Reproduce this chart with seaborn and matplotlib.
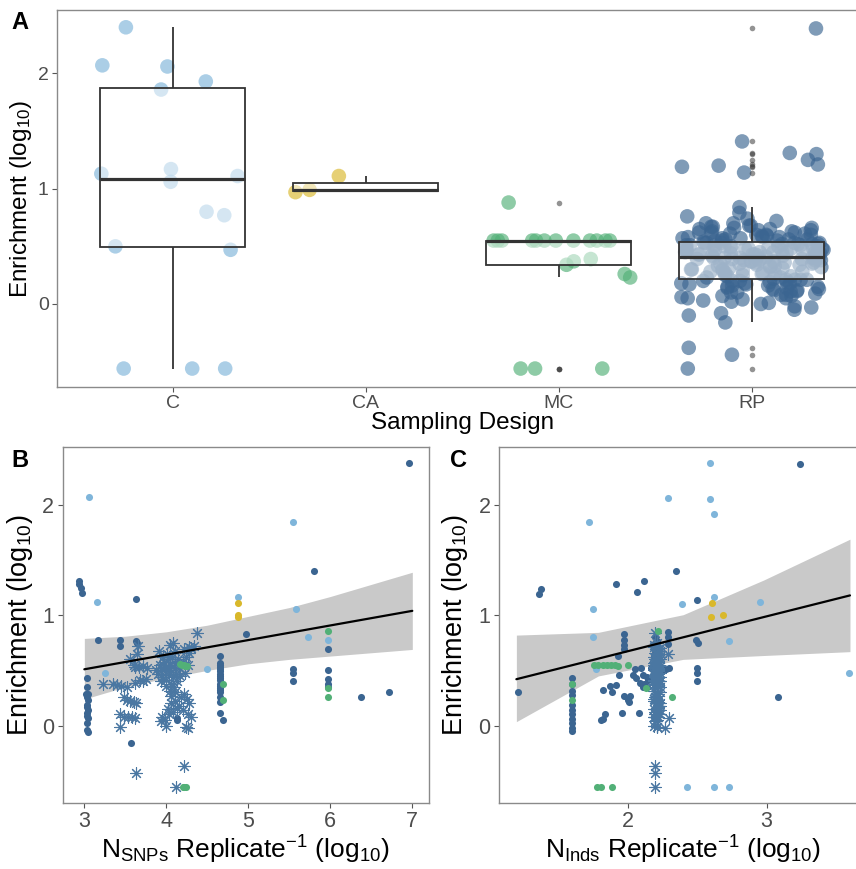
import numpy as np
import pandas as pd
import matplotlib
matplotlib.use("Agg")
import matplotlib.pyplot as plt
import seaborn as sns

# ---------------- data ----------------
design_order = ["C", "CA", "MC", "RP"]
design_colors = {"C": "#7fb5da", "CA": "#d9b82b", "MC": "#52b077", "RP": "#3b6591"}
asterisk_color = "#4a77a2"

# Panel A: enrichment (log10) per sampling design
enrich_C = [2.40, 2.07, 2.06, 1.93, 1.86, 1.06, 1.13, 1.17, 1.11, 0.77, 0.80,
            0.50, 0.47, -0.56, -0.56, -0.56]
enrich_CA = [0.97, 0.99, 1.11]
enrich_MC = [0.88, 0.55, 0.55, 0.55, 0.55, 0.55, 0.55, 0.55, 0.55, 0.55, 0.55,
             0.55, 0.55, 0.39, 0.37, 0.34, 0.26, 0.23, -0.56, -0.56, -0.56]
enrich_RP = [
    -0.56, -0.44, -0.38,
    -0.16, -0.10, -0.08, -0.05, -0.03, -0.02, 0.00, 0.01, 0.02, 0.03, 0.04, 0.05,
    0.05, 0.06, 0.07, 0.07, 0.08, 0.08, 0.09, 0.10, 0.10, 0.11, 0.11, 0.12, 0.12,
    0.13, 0.13, 0.14, 0.14, 0.15, 0.15, 0.16, 0.16, 0.17, 0.17, 0.18, 0.18, 0.18,
    0.19, 0.19, 0.20, 0.20, 0.20, 0.21, 0.21, 0.21, 0.21,
    0.22,
    0.23, 0.23, 0.24, 0.24, 0.25, 0.25, 0.26, 0.26, 0.27, 0.27, 0.28, 0.28, 0.29,
    0.29, 0.30, 0.30, 0.30, 0.31, 0.31, 0.32, 0.32, 0.33, 0.33, 0.33, 0.34, 0.34,
    0.35, 0.35, 0.35, 0.36, 0.36, 0.36, 0.37, 0.37, 0.37, 0.38, 0.38, 0.38, 0.38,
    0.39, 0.39, 0.39, 0.39, 0.40, 0.40, 0.40, 0.40, 0.40, 0.40,
    0.41,
    0.42, 0.42, 0.42, 0.42, 0.43, 0.43, 0.43, 0.43, 0.44, 0.44, 0.44, 0.44, 0.45,
    0.45, 0.45, 0.45, 0.46, 0.46, 0.46, 0.46, 0.47, 0.47, 0.47, 0.47, 0.48, 0.48,
    0.48, 0.48, 0.49, 0.49, 0.49, 0.49, 0.50, 0.50, 0.50, 0.50, 0.51, 0.51, 0.51,
    0.51, 0.52, 0.52, 0.52, 0.52, 0.53, 0.53, 0.53, 0.53, 0.53,
    0.54,
    0.55, 0.55, 0.55, 0.56, 0.56, 0.56, 0.57, 0.57, 0.57, 0.58, 0.58, 0.58, 0.59,
    0.59, 0.60, 0.60, 0.60, 0.61, 0.61, 0.62, 0.62, 0.62, 0.63, 0.63, 0.64, 0.64,
    0.65, 0.65, 0.66, 0.66, 0.67, 0.67, 0.68, 0.68, 0.70, 0.70, 0.72, 0.74, 0.76,
    0.79, 0.84,
    1.14, 1.19, 1.20, 1.21, 1.25, 1.30, 1.31, 1.41, 2.39,
]

# Panel B: N SNPs per replicate (log10) vs enrichment
b_C_x = [3.06, 3.15, 3.25, 4.87, 4.49, 5.54, 5.58, 5.73, 5.97]
b_C_y = [2.07, 1.12, 0.48, 1.17, 0.51, 1.85, 1.06, 0.80, 0.78]
b_CA_x = [4.87, 4.87, 4.87]
b_CA_y = [1.11, 1.00, 0.98]
b_MC_x = [4.17, 4.19, 4.21, 4.23, 4.25, 4.20, 4.22, 4.24, 4.69, 4.69, 5.97, 5.97, 5.97]
b_MC_y = [0.56, 0.55, 0.55, 0.54, 0.54, -0.56, -0.56, -0.56, 0.38, 0.23, 0.86, 0.34, 0.26]
b_RP_x = [2.93, 2.94, 2.96, 2.97,
          3.03, 3.03, 3.04, 3.02, 3.03, 3.04, 3.03, 3.03, 3.04, 3.03, 3.03, 3.04,
          3.03, 3.03, 3.04,
          3.17, 3.44, 3.44, 3.63, 3.63, 3.64, 3.57, 4.13, 4.13, 4.97,
          4.65, 4.65, 4.65, 4.65, 4.65, 4.65, 4.65, 4.65, 4.65, 4.65, 4.65, 4.65,
          4.65, 4.65, 4.65, 4.65, 4.65, 4.65, 4.69,
          5.55, 5.55, 5.55, 5.80, 5.97, 5.97, 5.97, 5.97, 5.97, 6.37, 6.72, 6.96]
b_RP_y = [1.31, 1.28, 1.25, 1.20,
          0.43, 0.35, 0.29, 0.29, 0.26, 0.23, 0.19, 0.17, 0.14, 0.11, 0.09, 0.07,
          0.02, -0.04, -0.06,
          0.78, 0.78, 0.72, 1.15, 0.77, 0.75, -0.16, 0.07, 0.05, 0.83,
          0.63, 0.57, 0.55, 0.53, 0.51, 0.49, 0.47, 0.45, 0.43, 0.41, 0.38, 0.36,
          0.34, 0.32, 0.30, 0.26, 0.21, 0.11, 0.05,
          0.51, 0.48, 0.40, 1.40, 0.69, 0.50, 0.42, 0.38, 0.35, 0.26, 0.30, 2.38]

# one study (asterisks): enrichment, N SNPs and N Inds per replicate
ast_y = [0.38, 0.38, 0.37, 0.36, 0.35, 0.60, 0.65, 0.72, 0.55, 0.53, 0.53, 0.54,
         0.52, 0.39, 0.41, 0.42, 0.40, 0.26, 0.23, 0.22, 0.21, 0.20, 0.10, 0.08,
         0.08, 0.08, 0.07, -0.01, -0.43, 0.68, 0.73, 0.75, 0.68, 0.84, 0.69, 0.71,
         0.72, 0.70, 0.50, 0.47, 0.55, 0.52, 0.44, 0.58, 0.49, 0.53, 0.41, 0.60,
         0.46, 0.55, 0.50, 0.38, 0.62, 0.44, 0.52, 0.57, 0.47, 0.40, 0.60, 0.62,
         0.40, 0.65, 0.35, 0.52, 0.36, 0.31, 0.27, 0.30, 0.45, 0.58, 0.62, 0.55,
         0.48, 0.66, 0.20, 0.15, 0.22, 0.18, 0.26, 0.29, 0.24, 0.20, 0.14, 0.10,
         0.08, 0.08, 0.05, 0.10, 0.12, 0.16, 0.00, -0.02, -0.01, 0.04, -0.37, -0.56]
ast_snp = [3.23, 3.35, 3.40, 3.45, 3.52, 3.56, 3.64, 3.66, 3.60, 3.62, 3.67, 3.72,
           3.76, 3.62, 3.68, 3.75, 3.72, 3.48, 3.52, 3.56, 3.60, 3.63, 3.43, 3.48,
           3.53, 3.58, 3.62, 3.44, 3.63, 3.91, 4.05, 4.08, 4.11, 4.37, 4.22, 4.28,
           4.34, 4.30, 3.88, 3.90, 3.92, 3.94, 3.95, 3.97, 3.98, 4.00, 4.00, 4.02,
           4.03, 4.04, 4.05, 4.06, 4.07, 4.08, 4.10, 4.10, 4.12, 4.13, 4.14, 3.96,
           3.93, 4.01, 4.09, 4.15, 3.99, 4.04, 4.06, 4.11, 4.17, 4.20, 4.24, 4.26,
           4.23, 4.28, 4.06, 4.02, 4.10, 4.15, 4.18, 4.22, 4.25, 4.28, 4.20, 4.26,
           4.30, 3.95, 3.98, 4.03, 4.08, 4.13, 4.00, 4.27, 4.24, 3.93, 4.21, 4.12]
ast_ind = [2.20, 2.21, 2.19, 2.22, 2.20, 2.21, 2.29, 2.20, 2.22, 2.19, 2.21, 2.23,
           2.20, 2.22, 2.19, 2.21, 2.23, 2.20, 2.22, 2.19, 2.21, 2.23, 2.20, 2.22,
           2.19, 2.21, 2.30, 2.21, 2.20, 2.22, 2.19, 2.21, 2.23, 2.20, 2.22, 2.19,
           2.21, 2.23, 2.20, 2.22, 2.19, 2.21, 2.23, 2.20, 2.22, 2.19, 2.21, 2.23,
           2.20, 2.22, 2.19, 2.21, 2.23, 2.20, 2.22, 2.19, 2.21, 2.23, 2.20, 2.22,
           2.19, 2.21, 2.23, 2.20, 2.22, 2.19, 2.21, 2.23, 2.20, 2.22, 2.19, 2.21,
           2.23, 2.20, 2.22, 2.19, 2.21, 2.23, 2.20, 2.22, 2.19, 2.21, 2.23, 2.20,
           2.22, 2.19, 2.21, 2.23, 2.20, 2.22, 2.19, 2.27, 2.21, 2.20, 2.20, 2.20]

# Panel C: N individuals per replicate (log10) vs enrichment
c_C_x = [2.59, 2.29, 2.59, 2.62, 1.72, 1.75, 1.75, 1.77, 2.39, 2.62, 2.95, 2.73,
         3.595, 2.43, 2.62, 2.73]
c_C_y = [2.385, 2.06, 2.05, 1.92, 1.85, 1.06, 0.80, 0.51, 1.10, 1.17, 1.12, 0.77,
         0.48, -0.56, -0.56, -0.56]
c_CA_x = [2.61, 2.60, 2.69]
c_CA_y = [1.11, 0.98, 1.00]
c_MC_x = [1.76, 1.79, 1.82, 1.85, 1.88, 1.91, 1.93, 2.00, 1.60, 1.60, 2.22, 2.32,
          2.13, 1.78, 1.81, 1.885]
c_MC_y = [0.55, 0.55, 0.55, 0.55, 0.55, 0.55, 0.54, 0.55, 0.38, 0.23, 0.86, 0.26,
          0.34, -0.56, -0.56, -0.56]
c_RP_x = [1.21, 1.36, 1.38, 1.92, 2.12, 2.07, 2.35, 2.50, 3.08, 3.24,
          1.975, 1.975, 1.975, 1.975, 1.93, 2.49, 2.51, 2.50, 2.50, 2.50,
          1.60, 1.60, 1.60, 1.60, 1.60, 1.60, 1.60, 1.60, 1.60, 1.60, 1.60,
          1.82, 1.87, 1.89, 1.92, 1.94, 1.975, 2.00, 2.02, 2.01, 2.04, 2.06, 2.10,
          2.08, 1.96, 1.82, 1.84, 1.81, 2.05, 2.11, 2.09, 2.11, 2.14, 2.17, 2.12,
          2.14, 2.15,
          2.29, 2.29, 2.29,
          2.20, 2.21, 2.19, 2.22, 2.20, 2.21, 2.19, 2.22, 2.20, 2.21, 2.23, 2.19,
          2.22, 2.20, 2.21, 2.24, 2.26, 2.28, 2.30, 2.25]
c_RP_y = [0.30, 1.19, 1.24, 1.28, 1.31, 1.21, 1.40, 1.14, 0.26, 2.375,
          0.83, 0.78, 0.73, 0.69, 0.63, 0.78, 0.75, 0.52, 0.475, 0.40,
          0.43, 0.38, 0.28, 0.19, 0.14, 0.10, 0.06, 0.02, -0.02, -0.05, 0.31,
          0.32, 0.36, 0.30, 0.37, 0.46, 0.27, 0.23, 0.27, 0.21, 0.46, 0.43, 0.52,
          0.11, 0.11, 0.06, 0.10, 0.05, 0.51, 0.46, 0.39, 0.35, 0.44, 0.52, 0.38,
          0.35, 0.41,
          0.85, 0.80, 0.74,
          0.80, 0.77, 0.74, 0.71, 0.68, 0.66, 0.63, 0.60, 0.58, 0.55, 0.53, 0.51,
          0.49, 0.45, 0.42, 0.52, 0.52, 0.51, 0.52, 0.50]

# fitted regression lines and confidence ribbons
b_fit_x = [3.0, 7.0]
b_fit_y = [0.51, 1.04]
b_band_x = [3.0, 3.5, 4.0, 4.5, 5.0, 5.5, 6.0, 6.5, 7.0]
b_band_lo = [0.24, 0.35, 0.43, 0.50, 0.56, 0.60, 0.63, 0.66, 0.69]
b_band_hi = [0.79, 0.81, 0.85, 0.91, 0.99, 1.07, 1.17, 1.28, 1.39]
c_fit_x = [1.2, 3.6]
c_fit_y = [0.42, 1.18]
c_band_x = [1.2, 1.79, 2.40, 2.98, 3.6]
c_band_lo = [0.035, 0.45, 0.60, 0.635, 0.67]
c_band_hi = [0.82, 0.845, 1.005, 1.32, 1.69]

# ---------------- style ----------------
sns.set_theme(style="white")
plt.rcParams["font.family"] = ["Liberation Sans", "DejaVu Sans"]
plt.rcParams["mathtext.fontset"] = "custom"
plt.rcParams["mathtext.rm"] = "Liberation Sans"
plt.rcParams["mathtext.it"] = "Liberation Sans:italic"
plt.rcParams["mathtext.bf"] = "Liberation Sans:bold"

W, H = 856, 869
fig = plt.figure(figsize=(W / 100, H / 100), dpi=100)


def px_axes(left, top, width, height):
    return fig.add_axes([left / W, 1 - (top + height) / H, width / W, height / H])


border_col = "#8a8a8a"
tick_col = "#4d4d4d"


def style_axes(ax, tick_size):
    for s in ax.spines.values():
        s.set_visible(True)
        s.set_color(border_col)
        s.set_linewidth(1.0)
    ax.tick_params(axis="both", direction="out", length=3.5, width=0.8,
                   color="#555555", labelcolor=tick_col, labelsize=tick_size,
                   bottom=True, left=True, pad=2.5)
    ax.grid(False)


ylab = r"$\mathregular{Enrichment\ (log_{10})}$"

# ---------------- Panel A ----------------
df_a = pd.DataFrame({
    "design": (["C"] * len(enrich_C) + ["CA"] * len(enrich_CA)
               + ["MC"] * len(enrich_MC) + ["RP"] * len(enrich_RP)),
    "enrichment": enrich_C + enrich_CA + enrich_MC + enrich_RP,
})

axA = px_axes(57, 10, 4.2 * 193, 377)
np.random.seed(11)
sns.stripplot(data=df_a, x="design", y="enrichment", hue="design",
              order=design_order, hue_order=design_order, palette=design_colors,
              jitter=0.38, size=10.5, alpha=0.65, linewidth=0, legend=False,
              ax=axA, zorder=1)
sns.boxplot(data=df_a, x="design", y="enrichment", order=design_order,
            width=0.75, color="white", linecolor="#333333", linewidth=1.3,
            whis=1.5, showcaps=False,
            boxprops=dict(facecolor=(1, 1, 1, 0.5)),
            medianprops=dict(linewidth=2.3),
            flierprops=dict(marker="o", markersize=4, markerfacecolor="#3a3a3a",
                            markeredgecolor="none", alpha=0.55),
            ax=axA)
axA.set_xlim(-0.6, 3.6)
axA.set_ylim(-0.72, 2.55)
axA.set_yticks([0, 1, 2])
style_axes(axA, 14)
axA.set_xlabel("Sampling Design", fontsize=17.5, color="black", labelpad=0)
axA.set_ylabel(ylab, fontsize=17.5, color="black", labelpad=3)

# ---------------- Panel B ----------------
axB = px_axes(62.7, 447, 366, 355.7)
axB.fill_between(b_band_x, b_band_lo, b_band_hi, color="#c9c9c9", linewidth=0, zorder=1)
sns.scatterplot(x=b_RP_x, y=b_RP_y, color=design_colors["RP"], s=26, linewidth=0,
                ax=axB, zorder=2)
sns.scatterplot(x=ast_snp, y=ast_y, color=asterisk_color, marker=(8, 2, 0), s=70,
                linewidth=0.8, ax=axB, zorder=2)
sns.scatterplot(x=b_C_x, y=b_C_y, color=design_colors["C"], s=26, linewidth=0, ax=axB, zorder=2)
sns.scatterplot(x=b_MC_x, y=b_MC_y, color=design_colors["MC"], s=26, linewidth=0, ax=axB, zorder=2)
sns.scatterplot(x=b_CA_x, y=b_CA_y, color=design_colors["CA"], s=26, linewidth=0, ax=axB, zorder=2)
sns.lineplot(x=b_fit_x, y=b_fit_y, color="black", linewidth=1.6, ax=axB, zorder=3)
axB.set_xlim(2.736, 7.2)
axB.set_ylim(-0.70, 2.526)
axB.set_xticks([3, 4, 5, 6, 7])
axB.set_yticks([0, 1, 2])
style_axes(axB, 15.5)
axB.set_xlabel(r"$\mathregular{N_{SNPs}\ Replicate^{-1}\ (log_{10})}$",
               fontsize=19, color="black", labelpad=1)
axB.set_ylabel(ylab, fontsize=19.5, color="black", labelpad=5)

# ---------------- Panel C ----------------
axC = px_axes(499, 447, 2.645 * 139, 355.7)
axC.fill_between(c_band_x, c_band_lo, c_band_hi, color="#c9c9c9", linewidth=0, zorder=1)
sns.scatterplot(x=c_RP_x, y=c_RP_y, color=design_colors["RP"], s=26, linewidth=0,
                ax=axC, zorder=2)
sns.scatterplot(x=ast_ind, y=ast_y, color=asterisk_color, marker=(8, 2, 0), s=70,
                linewidth=0.8, ax=axC, zorder=2)
sns.scatterplot(x=c_C_x, y=c_C_y, color=design_colors["C"], s=26, linewidth=0, ax=axC, zorder=2)
sns.scatterplot(x=c_MC_x, y=c_MC_y, color=design_colors["MC"], s=26, linewidth=0, ax=axC, zorder=2)
sns.scatterplot(x=c_CA_x, y=c_CA_y, color=design_colors["CA"], s=26, linewidth=0, ax=axC, zorder=2)
sns.lineplot(x=c_fit_x, y=c_fit_y, color="black", linewidth=1.6, ax=axC, zorder=3)
axC.set_xlim(1.075, 3.72)
axC.set_ylim(-0.70, 2.526)
axC.set_xticks([2, 3])
axC.set_yticks([0, 1, 2])
style_axes(axC, 15.5)
axC.set_xlabel(r"$\mathregular{N_{Inds}\ Replicate^{-1}\ (log_{10})}$",
               fontsize=19, color="black", labelpad=1)
axC.set_ylabel(ylab, fontsize=19.5, color="black", labelpad=6)

# panel letters
for letter, (lx, ly) in {"A": (11, 11), "B": (11, 449), "C": (450, 449)}.items():
    fig.text(lx / W, 1 - ly / H, letter, fontsize=17, fontweight="bold",
             ha="left", va="top", color="black")

fig.savefig("out.png", dpi=100)
